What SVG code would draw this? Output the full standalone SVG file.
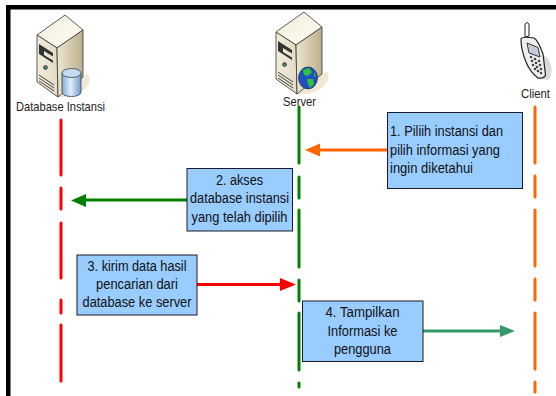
<svg xmlns="http://www.w3.org/2000/svg" width="556" height="396" viewBox="0 0 556 396">
<defs>
<style>
text{font-family:"Liberation Sans",Arial,sans-serif;font-size:15.500px;fill:#111}
.lbl{font-size:13px;fill:#222}
.m{text-anchor:middle}
.box{fill:#99ccff;stroke:#1a1a2a;stroke-width:1}
.ll{fill:none;stroke-width:3;stroke-linecap:round}
.ar{fill:none;stroke-width:3}
.k{fill:#444}
</style>
<linearGradient id="top" x1="0" y1="0" x2="1" y2="1"><stop offset="0" stop-color="#f2edd9"/><stop offset="1" stop-color="#fffdf6"/></linearGradient>
<linearGradient id="front" x1="0" y1="0" x2="1" y2="0"><stop offset="0" stop-color="#f2eddc"/><stop offset="1" stop-color="#e2dac4"/></linearGradient>
<linearGradient id="side" x1="0" y1="0" x2="1" y2="0"><stop offset="0" stop-color="#ede5d0"/><stop offset="1" stop-color="#bdaf8d"/></linearGradient>
<linearGradient id="cyl" x1="0" y1="0" x2="1" y2="0"><stop offset="0" stop-color="#7ea9d6"/><stop offset=".45" stop-color="#e3eef9"/><stop offset="1" stop-color="#6f9ccc"/></linearGradient>
<g id="tower">
<path d="M58 97L83 77L88 74C93 82 86 92 70 97Z" fill="#eee8d4"/>
<path d="M65 15L37 35L57 48L83 30Z" fill="url(#top)" stroke="#333" stroke-width=".8"/>
<path d="M37 35L57 48L58 97L37 82Z" fill="url(#front)" stroke="#333" stroke-width=".8"/>
<path d="M57 48L83 30V77L58 97Z" fill="url(#side)" stroke="#333" stroke-width=".8"/>
<path d="M39 44L53 53V56.500L44 51V55L53 60.500V63L39 54Z" fill="#333"/>
<circle cx="45.500" cy="67.500" r="2" fill="#4c7a70" stroke="#222" stroke-width=".6"/>
<path d="M39 75L54 85M39 78L54 88M39 81L54 91" stroke="#444" stroke-width="1" fill="none"/>
</g>
</defs>
<rect width="556" height="396" fill="#fff"/>
<path d="M6 396V5H556V9.500H10.500V396Z" fill="#000"/>

<g id="connectors">
<path class="ll" stroke="#ff0000" d="M61 120V175M61 188V209M61 223V278M61 300V313M61 325V381"/>
<path class="ll" stroke="#008000" d="M299 107V163M299 177V198M299 210V267M299 280V301M299 313V370M299 383V387"/>
<path class="ll" stroke="#ff6600" d="M535 107V163M535 176V197M535 210V266M535 279V300M535 313V369M535 382V392"/>
<path class="ar" stroke="#ff6600" d="M387 150H316"/><path fill="#ff6600" d="M305 150L320 143.500V156.500Z"/>
<path class="ar" stroke="#008000" d="M187 200H82"/><path fill="#008000" d="M71 200.500L86 194V207Z"/>
<path class="ar" stroke="#ff0000" d="M197 284.500H285"/><path fill="#ff0000" d="M296 284.500L280 278V291Z"/>
<path class="ar" stroke="#339966" d="M423 331H504"/><path fill="#339966" d="M515 331L500 325V337Z"/>
</g>

<g id="node-database">
<use href="#tower"/>
<path d="M62 73V92C62 98 81 98 81 92V73Z" fill="url(#cyl)" stroke="#345" stroke-width=".8"/>
<ellipse cx="71.500" cy="73" rx="9.500" ry="4.500" fill="#c5daef" stroke="#345" stroke-width=".8"/>
<text class="lbl" x="16" y="111" textLength="89" lengthAdjust="spacingAndGlyphs">Database Instansi</text>
</g>
<g id="node-server">
<use href="#tower" x="239" y="-3"/>
<ellipse cx="308" cy="78" rx="9.500" ry="11" fill="#1f4fc0" stroke="#123" stroke-width=".6"/>
<path d="M303 70L309 68L312 72L308 76L304 75ZM307 79L313 79L314 84L310 88L308 84ZM314 72L316 76L314 77Z" fill="#2fc23a"/>
<text class="lbl" x="283" y="106" textLength="33" lengthAdjust="spacingAndGlyphs">Server</text>
</g>
<g id="node-client">
<path d="M544 55C552 60 554 74 548 80L537 79Z" fill="#d9d9d9"/>
<path d="M525 37V24Q527 21 529 24V36Z" fill="#fff" stroke="#222" stroke-width="1"/>
<path d="M521 39Q522 36 534 38Q538 40 543 54L545.500 75Q544 79 538 78Q530 72 526 62Q521 50 521 39Z" fill="#eeeeee" stroke="#222" stroke-width="1.200"/>
<path d="M527 43L538 47.500L540 57L529 53Z" fill="#c3ccd8" stroke="#222" stroke-width=".9"/>
<g class="k">
<circle cx="531" cy="57" r="1.300"/><circle cx="535" cy="59" r="1.300"/><circle cx="539" cy="61" r="1.300"/>
<circle cx="532" cy="61" r="1.300"/><circle cx="536" cy="63" r="1.300"/><circle cx="540" cy="65" r="1.300"/>
<circle cx="533" cy="65" r="1.300"/><circle cx="537" cy="67" r="1.300"/><circle cx="541" cy="69" r="1.300"/>
<circle cx="535" cy="69" r="1.300"/><circle cx="538" cy="71" r="1.300"/><circle cx="541" cy="73" r="1.300"/>
</g>
<text class="lbl" x="521" y="98" textLength="29" lengthAdjust="spacingAndGlyphs">Client</text>
</g>

<g id="node-step1">
<rect class="box" x="387.500" y="112.500" width="135" height="76"/>
<text x="390" y="136" textLength="113" lengthAdjust="spacingAndGlyphs">1. Piliih instansi dan</text>
<text x="390" y="155" textLength="110" lengthAdjust="spacingAndGlyphs">pilih informasi yang</text>
<text x="390" y="173" textLength="83" lengthAdjust="spacingAndGlyphs">ingin diketahui</text>
</g>
<g id="node-step2">
<rect class="box" x="187" y="168.500" width="105.500" height="62.500"/>
<text class="m" x="239.500" y="185" textLength="47" lengthAdjust="spacingAndGlyphs">2. akses</text>
<text class="m" x="239.500" y="203" textLength="99" lengthAdjust="spacingAndGlyphs">database instansi</text>
<text class="m" x="239.500" y="222" textLength="96" lengthAdjust="spacingAndGlyphs">yang telah dipilih</text>
</g>
<g id="node-step3">
<rect class="box" x="77" y="255" width="120" height="60"/>
<text class="m" x="137" y="271" textLength="99" lengthAdjust="spacingAndGlyphs">3. kirim data hasil</text>
<text class="m" x="137" y="289" textLength="82" lengthAdjust="spacingAndGlyphs">pencarian dari</text>
<text class="m" x="137" y="307" textLength="109" lengthAdjust="spacingAndGlyphs">database ke server</text>
</g>
<g id="node-step4">
<rect class="box" x="302.500" y="301" width="120.500" height="60.500"/>
<text class="m" x="362.500" y="317" textLength="74" lengthAdjust="spacingAndGlyphs">4. Tampilkan</text>
<text class="m" x="362.500" y="336" textLength="70" lengthAdjust="spacingAndGlyphs">Informasi ke</text>
<text class="m" x="362.500" y="354" textLength="57" lengthAdjust="spacingAndGlyphs">pengguna</text>
</g>
</svg>
